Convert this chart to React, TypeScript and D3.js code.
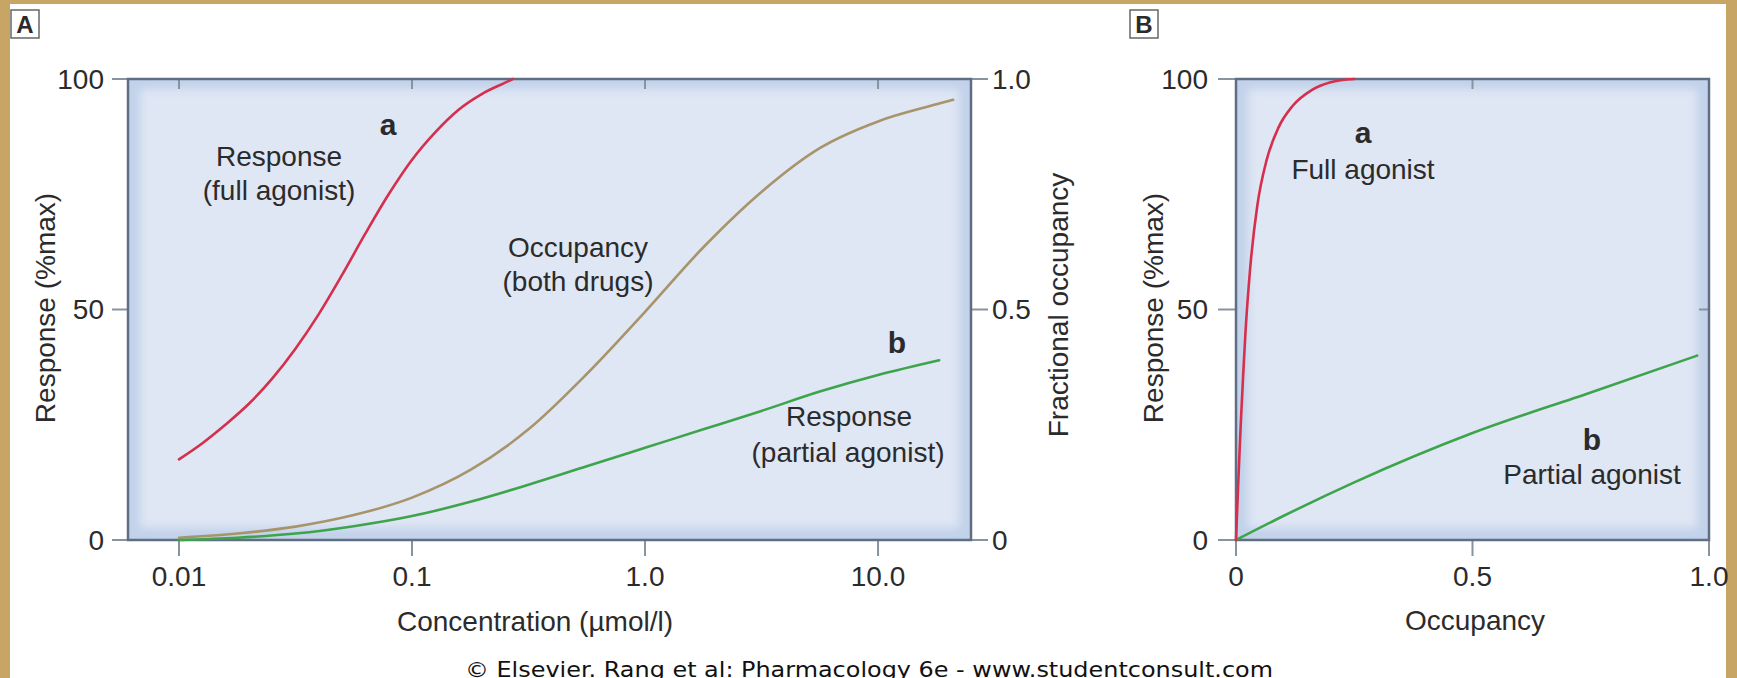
import React, { useEffect, useRef } from 'react';
import * as d3 from 'd3';

// Panel A: concentration (µmol/l) on a log axis
const fullAgonistConc = [0.01, 0.0126, 0.0158, 0.02, 0.0251, 0.0316, 0.0398, 0.0501, 0.0631, 0.0794, 0.1, 0.126, 0.158, 0.2, 0.251, 0.271];
const fullAgonistResp = [17.5, 21, 25, 29.6, 35, 41.5, 49, 57.5, 66.5, 75, 82.5, 88.5, 93.3, 96.8, 99.2, 100];

const occupancyConc = [0.01, 0.0178, 0.0316, 0.0562, 0.1, 0.178, 0.316, 0.562, 1, 1.78, 3.16, 5.62, 10, 17.8, 21];
const occupancyFrac = [0.005, 0.014, 0.029, 0.054, 0.092, 0.152, 0.24, 0.36, 0.495, 0.635, 0.755, 0.85, 0.908, 0.945, 0.955];

const partialAgonistConc = [0.01, 0.0178, 0.0316, 0.0562, 0.1, 0.178, 0.316, 0.562, 1, 1.78, 3.16, 5.62, 10, 18.3];
const partialAgonistResp = [0, 0.5, 1.4, 3, 5.2, 8.3, 12, 16, 20, 24, 28, 32.2, 35.8, 39];

// Panel B: response vs occupancy
const fullOccB = [0, 0.005, 0.01, 0.015, 0.02, 0.03, 0.045, 0.065, 0.09, 0.12, 0.16, 0.2, 0.25];
const fullRespB = [0, 13, 25, 35.5, 45, 59, 72.5, 82.5, 89.5, 94.2, 97.6, 99.3, 100];
const partialOccB = [0, 0.1, 0.25, 0.5, 0.75, 0.975];
const partialRespB = [0, 5.2, 12.5, 23.2, 32, 40];

// ticks
const concTicks = [0.01, 0.1, 1, 10];
const concTickLabels = ['0.01', '0.1', '1.0', '10.0'];
const responseTicks = [0, 50, 100];
const responseTickLabels = ['0', '50', '100'];
const fracTicks = [0, 0.5, 1];
const fracTickLabels = ['0', '0.5', '1.0'];

const W = 1737;
const H = 678;
const FONT = '"Liberation Sans", Arial, Helvetica, sans-serif';
const RED = '#d52f4d';
const TAN = '#a8946a';
const GREEN = '#3ea44b';
const TXT = '#2b2b2b';
const FRAME = '#5f6e82';
const TICK = '#8893a1';

const App: React.FC = () => {
  const svgRef = useRef<SVGSVGElement>(null);

  useEffect(() => {
    if (!svgRef.current) return;
    const svg = d3.select(svgRef.current);
    svg.selectAll('*').remove();

    const defs = svg.append('defs');
    defs.append('filter').attr('id', 'soft')
      .attr('x', '-10%').attr('y', '-10%').attr('width', '120%').attr('height', '120%')
      .append('feGaussianBlur').attr('stdDeviation', 4);

    // page: wooden border + white sheet
    svg.append('rect').attr('width', W).attr('height', H).attr('fill', '#c6a565');
    svg.append('rect').attr('x', 10).attr('y', 4).attr('width', 1716).attr('height', H).attr('fill', '#ffffff');

    const A = { left: 128, right: 971, top: 79, bottom: 540 };
    const B = { left: 1236, right: 1709, top: 79, bottom: 540 };

    const xA = d3.scaleLog().domain([0.00604, 25.06]).range([A.left, A.right]);
    const yA = d3.scaleLinear().domain([0, 100]).range([A.bottom, A.top]);
    const yOcc = d3.scaleLinear().domain([0, 1]).range([A.bottom, A.top]);
    const xB = d3.scaleLinear().domain([0, 1]).range([B.left, B.right]);
    const yB = d3.scaleLinear().domain([0, 100]).range([B.bottom, B.top]);

    const frame = (b: typeof A, id: string) => {
      defs.append('clipPath').attr('id', id)
        .append('rect').attr('x', b.left).attr('y', b.top)
        .attr('width', b.right - b.left).attr('height', b.bottom - b.top);
      const g = svg.append('g').attr('clip-path', `url(#${id})`);
      g.append('rect').attr('x', b.left).attr('y', b.top)
        .attr('width', b.right - b.left).attr('height', b.bottom - b.top)
        .attr('fill', '#c2d2ea');
      g.append('rect').attr('x', b.left + 12).attr('y', b.top + 10)
        .attr('width', b.right - b.left - 24).attr('height', b.bottom - b.top - 22)
        .attr('fill', '#dfe6f4').attr('filter', 'url(#soft)');
    };
    frame(A, 'clipA');
    frame(B, 'clipB');

    const tickLine = (x1: number, y1: number, x2: number, y2: number) =>
      svg.append('line').attr('x1', x1).attr('y1', y1).attr('x2', x2).attr('y2', y2)
        .attr('stroke', TICK).attr('stroke-width', 2);

    const text = (x: number, y: number, s: string, anchor = 'middle', size = 28, weight = 'normal') =>
      svg.append('text').attr('x', x).attr('y', y).attr('text-anchor', anchor)
        .attr('font-family', FONT).attr('font-size', size).attr('font-weight', weight)
        .attr('fill', TXT).text(s);

    const rotText = (x: number, y: number, s: string) =>
      svg.append('text').attr('transform', `translate(${x},${y}) rotate(-90)`)
        .attr('text-anchor', 'middle').attr('dy', '0.35em')
        .attr('font-family', FONT).attr('font-size', 28).attr('fill', TXT).text(s);

    // ---- Panel A axes ----
    concTicks.forEach((t, i) => {
      tickLine(xA(t), A.bottom, xA(t), A.bottom + 16);
      tickLine(xA(t), A.top, xA(t), A.top + 10);
      text(xA(t), 586, concTickLabels[i]);
    });
    responseTicks.forEach((t, i) => {
      tickLine(A.left - 16, yA(t), A.left, yA(t));
      text(A.left - 24, yA(t), responseTickLabels[i], 'end').attr('dy', '0.35em');
    });
    fracTicks.forEach((t, i) => {
      tickLine(A.right, yOcc(t), A.right + 17, yOcc(t));
      text(A.right + 21, yOcc(t), fracTickLabels[i], 'start').attr('dy', '0.35em');
    });

    // ---- Panel B axes ----
    fracTicks.forEach((t, i) => {
      tickLine(xB(t), B.bottom, xB(t), B.bottom + 16);
      text(xB(t), 586, fracTickLabels[i]);
    });
    tickLine(xB(0.5), B.top, xB(0.5), B.top + 10);
    tickLine(B.right - 10, yB(50), B.right, yB(50));
    responseTicks.forEach((t, i) => {
      tickLine(B.left - 18, yB(t), B.left, yB(t));
      text(B.left - 28, yB(t), responseTickLabels[i], 'end').attr('dy', '0.35em');
    });

    // frames
    [A, B].forEach(b => {
      svg.append('rect').attr('x', b.left).attr('y', b.top)
        .attr('width', b.right - b.left).attr('height', b.bottom - b.top)
        .attr('fill', 'none').attr('stroke', FRAME).attr('stroke-width', 2.5);
    });

    // ---- curves ----
    const lineA = d3.line<[number, number]>().x(d => xA(d[0])).y(d => yA(d[1])).curve(d3.curveMonotoneX);
    const lineOcc = d3.line<[number, number]>().x(d => xA(d[0])).y(d => yOcc(d[1])).curve(d3.curveMonotoneX);
    const lineB = d3.line<[number, number]>().x(d => xB(d[0])).y(d => yB(d[1])).curve(d3.curveMonotoneX);

    const path = (d: string | null, color: string) =>
      svg.append('path').attr('d', d).attr('fill', 'none').attr('stroke', color)
        .attr('stroke-width', 2.6).attr('stroke-linecap', 'round');

    path(lineOcc(occupancyConc.map((c, i) => [c, occupancyFrac[i]] as [number, number])), TAN);
    path(lineA(partialAgonistConc.map((c, i) => [c, partialAgonistResp[i]] as [number, number])), GREEN);
    path(lineA(fullAgonistConc.map((c, i) => [c, fullAgonistResp[i]] as [number, number])), RED);
    path(lineB(partialOccB.map((o, i) => [o, partialRespB[i]] as [number, number])), GREEN);
    path(lineB(fullOccB.map((o, i) => [o, fullRespB[i]] as [number, number])), RED);

    // ---- labels ----
    text(388, 135, 'a', 'middle', 30, 'bold');
    text(279, 166, 'Response');
    text(279, 200, '(full agonist)');
    text(578, 257, 'Occupancy');
    text(578, 291, '(both drugs)');
    text(897, 353, 'b', 'middle', 30, 'bold');
    text(849, 426, 'Response');
    text(848, 462, '(partial agonist)');

    text(1363, 143, 'a', 'middle', 30, 'bold');
    text(1363, 179, 'Full agonist');
    text(1592, 450, 'b', 'middle', 30, 'bold');
    text(1592, 484, 'Partial agonist');

    // axis titles
    text(535, 631, 'Concentration (\u00b5mol/l)');
    text(1475, 630, 'Occupancy');
    rotText(45, 308, 'Response (%max)');
    rotText(1153, 308, 'Response (%max)');
    rotText(1058, 305, 'Fractional occupancy');

    // panel letters
    [{ x: 11, s: 'A' }, { x: 1130, s: 'B' }].forEach(p => {
      svg.append('rect').attr('x', p.x).attr('y', 10).attr('width', 28).attr('height', 28)
        .attr('fill', '#fff').attr('stroke', '#666').attr('stroke-width', 1.5);
      text(p.x + 14, 33, p.s, 'middle', 24, 'bold');
    });

    // credit line (cut by the page edge, as in the source)
    svg.append('text').attr('x', 869).attr('y', 677).attr('text-anchor', 'middle')
      .attr('font-family', '"DejaVu Sans", Verdana, sans-serif').attr('font-size', 22)
      .attr('textLength', 808).attr('lengthAdjust', 'spacingAndGlyphs')
      .attr('fill', '#111').text('\u00a9 Elsevier. Rang et al: Pharmacology 6e - www.studentconsult.com');
  }, []);

  return (
    <svg
      ref={svgRef}
      width={W}
      height={H}
      style={{ position: 'absolute', left: 0, top: 0, display: 'block' }}
    />
  );
};

export default App;
